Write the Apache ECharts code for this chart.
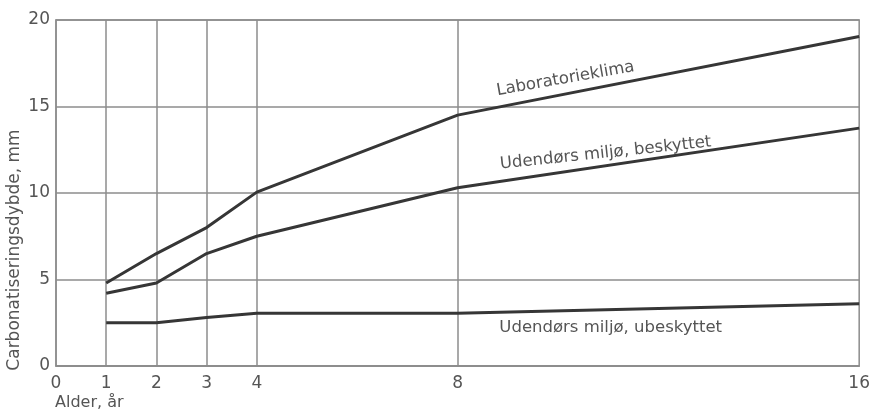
<!DOCTYPE html>
<html>
<head>
<meta charset="utf-8">
<script src="https://cdn.jsdelivr.net/npm/echarts@6/dist/echarts.min.js"></script>
<style>
html,body{margin:0;padding:0;background:#fff;}
#c{width:873px;height:413px;}
</style>
</head>
<body>
<div id="c"></div>
<script>
// Data
const ages = [1, 2, 3, 4, 8, 16];
const laboratorieklima = [4.8, 6.5, 8.0, 10.05, 14.5, 19.05];
const beskyttet = [4.2, 4.8, 6.5, 7.5, 10.3, 13.75];
const ubeskyttet = [2.5, 2.5, 2.8, 3.05, 3.05, 3.6];
const xTickLabels = [0, 1, 2, 3, 4, 8, 16];
const xGridValues = [1, 2, 3, 4, 8];
const seriesNames = ['Laboratorieklima', 'Udendørs miljø, beskyttet', 'Udendørs miljø, ubeskyttet'];
const xAxisTitle = 'Alder, år';
const yAxisTitle = 'Carbonatiseringsdybde, mm';

// annotation placement (data coordinates) and rotation
const labelPlacement = [
  { coord: [10.15, 16.6], rotate: 10 },
  { coord: [10.95, 12.3], rotate: 6 },
  { coord: [11.05, 2.2], rotate: 0 }
];

const FONT = 'DejaVu Sans';
const TXT = '#555';
const LINE = '#363636';
const GRID = '#8c8c8c';

function pairs(vals) { return ages.map((a, i) => [a, vals[i]]); }

function series(name, vals, idx) {
  const lp = labelPlacement[idx];
  return {
    name: name,
    type: 'line',
    data: pairs(vals),
    symbol: 'none',
    lineStyle: { color: LINE, width: 3 },
    z: 5,
    silent: true,
    markPoint: {
      symbol: 'circle',
      symbolSize: 0,
      silent: true,
      data: [{
        coord: lp.coord,
        label: {
          show: true,
          formatter: name,
          position: 'inside',
          rotate: lp.rotate,
          color: TXT,
          fontFamily: FONT,
          fontSize: 16.5
        }
      }]
    }
  };
}

const allSeries = [
  series(seriesNames[0], laboratorieklima, 0),
  series(seriesNames[1], beskyttet, 1),
  series(seriesNames[2], ubeskyttet, 2)
];
allSeries[0].markLine = {
  silent: true,
  symbol: 'none',
  label: { show: false },
  lineStyle: { color: GRID, width: 1.5, type: 'solid' },
  data: xGridValues.map(v => ({ xAxis: v }))
};

const chart = echarts.init(document.getElementById('c'), null, { renderer: 'canvas' });
chart.setOption({
  backgroundColor: '#fff',
  animation: false,
  grid: {
    left: 56, top: 20, right: 11, bottom: 47,
    show: true, borderColor: GRID, borderWidth: 1.5, backgroundColor: 'transparent'
  },
  xAxis: {
    type: 'value',
    min: 0, max: 16,
    axisLine: { show: true, lineStyle: { color: GRID, width: 1.5 } },
    axisTick: { show: false },
    splitLine: { show: false },
    axisLabel: {
      customValues: xTickLabels,
      color: TXT, fontFamily: FONT, fontSize: 17, margin: 9
    }
  },
  yAxis: {
    type: 'value',
    min: 0, max: 20, interval: 5,
    axisLine: { show: true, lineStyle: { color: GRID, width: 1.5 } },
    axisTick: { show: false },
    splitLine: { show: true, lineStyle: { color: GRID, width: 1.5 } },
    axisLabel: { color: TXT, fontFamily: FONT, fontSize: 17, margin: 6 }
  },
  graphic: [
    {
      type: 'text',
      x: 15, y: 250,
      rotation: Math.PI / 2,
      style: {
        text: yAxisTitle, fill: TXT, font: '17px "DejaVu Sans"',
        align: 'center', verticalAlign: 'middle'
      }
    },
    {
      type: 'text',
      x: 55, y: 403,
      style: {
        text: xAxisTitle, fill: TXT, font: '16px "DejaVu Sans"',
        align: 'left', verticalAlign: 'middle'
      }
    }
  ],
  series: allSeries
});
</script>
</body>
</html>
